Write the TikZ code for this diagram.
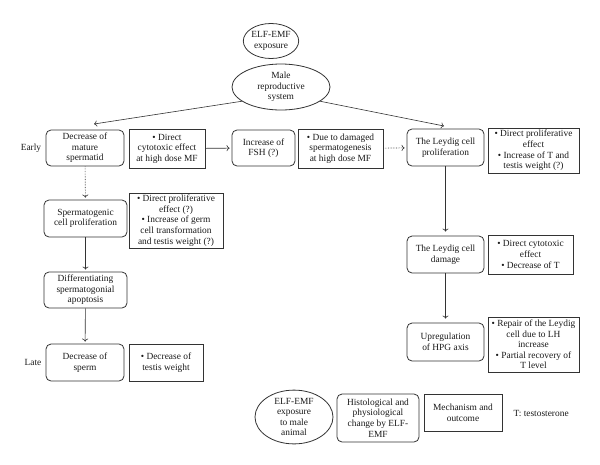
\documentclass[tikz,border=0pt]{standalone}
\usepackage{tikz}
\usepackage{fontspec}
\setmainfont{Liberation Serif}
\usetikzlibrary{shapes.geometric,arrows.meta}

\begin{document}
\begin{tikzpicture}[x=1pt,y=-1pt,
    every node/.style={font=\fontsize{9.4}{10.6}\selectfont, text=black!90},
    stage/.style={draw=black!80, line width=0.8pt, rounded corners=5pt, align=center, inner sep=1pt},
    note/.style={draw=black!80, line width=0.8pt, align=center, inner sep=1pt},
    oval/.style={draw=black!80, line width=0.8pt, ellipse, align=center, inner sep=0pt},
    link/.style={draw=black!80, line width=0.6pt, -{To[length=3pt,width=6pt]}, shorten >=2pt}]
  \useasboundingbox (0,0) rectangle (600,464);

  % top of the chart
  \node[oval, minimum width=52, minimum height=35] (exposure) at (271,41) {ELF-EMF\\exposure};
  \node[oval, minimum width=98, minimum height=46] (male) at (281,87) {Male\\reproductive\\system};
  \coordinate (tipL) at (94,124);
  \coordinate (tipR) at (444,126);
  \draw[link, shorten >=0pt] (male.200) -- (tipL);
  \draw[link, shorten >=0pt] (male.-20) -- (tipR);

  % early row
  \node (early) at (31,148) {Early};
  \node[stage, minimum width=78, minimum height=36] (spermatid) at (85,148) {Decrease of\\mature\\spermatid};
  \node[note, minimum width=76, minimum height=39] (cyto) at (167,148.5) {\textbullet\ Direct\\cytotoxic effect\\at high dose MF};
  \node[stage, minimum width=63, minimum height=36] (fsh) at (263.5,148) {Increase of\\FSH (?)};
  \node[note, minimum width=85, minimum height=39] (damaged) at (340.5,148.5) {\textbullet\ Due to damaged\\spermatogenesis\\at high dose MF};
  \node[stage, minimum width=77, minimum height=37] (lprol) at (445.5,147.5) {The Leydig cell\\proliferation};
  \node[note, minimum width=91, minimum height=45] (lprolnote) at (533.5,150.5) {\textbullet\ Direct proliferative\\effect\\\textbullet\ Increase of T and\\testis weight (?)};
  \draw[link] (cyto) -- (fsh);
  \draw[link, densely dotted] (damaged) -- (lprol);

  % left column
  \node[stage, minimum width=83, minimum height=37] (sprol) at (85.5,218.5) {Spermatogenic\\cell proliferation};
  \node[note, minimum width=94, minimum height=55] (sprolnote) at (176,220.5) {\textbullet\ Direct proliferative\\effect (?)\\\textbullet\ Increase of germ\\cell transformation\\and testis weight (?)};
  \node[stage, minimum width=83, minimum height=36] (apop) at (85.5,290) {Differentiating\\spermatogonial\\apoptosis};
  \node (late) at (33,362) {Late};
  \node[stage, minimum width=78, minimum height=37] (sperm) at (85,362.5) {Decrease of\\sperm};
  \node[note, minimum width=74, minimum height=37] (spermnote) at (166,362.5) {\textbullet\ Decrease of\\testis weight};
  \draw[link, densely dotted] (spermatid) -- (sprol);
  \draw[link] (sprol) -- (apop);
  \draw[link] (apop) -- (sperm);

  % right column
  \node[stage, minimum width=77, minimum height=37] (ldam) at (445.5,254.5) {The Leydig cell\\damage};
  \node[note, minimum width=85, minimum height=39] (ldamnote) at (530.5,254.5) {\textbullet\ Direct cytotoxic\\effect\\\textbullet\ Decrease of T};
  \node[stage, minimum width=77, minimum height=38] (hpg) at (445.5,342) {Upregulation\\of HPG axis};
  \node[note, minimum width=91, minimum height=55] (hpgnote) at (533.5,344.5) {\textbullet\ Repair of the Leydig\\cell due to LH\\increase\\\textbullet\ Partial recovery of\\T level};
  \draw[link, shorten >=4pt] (lprol) -- (ldam);
  \draw[link, shorten >=4pt] (ldam) -- (hpg);

  % legend
  \node[oval, minimum width=78, minimum height=47] (keyoval) at (294,417) {ELF-EMF\\exposure\\to male\\animal};
  \node[stage, minimum width=82, minimum height=48] (keystage) at (378,418) {Histological and\\physiological\\change by ELF-\\EMF};
  \node[note, minimum width=78, minimum height=37] (keynote) at (463,412.5) {Mechanism and\\outcome};
  \node[anchor=west] (keyT) at (510,413) {T: testosterone};
\end{tikzpicture}
\end{document}
